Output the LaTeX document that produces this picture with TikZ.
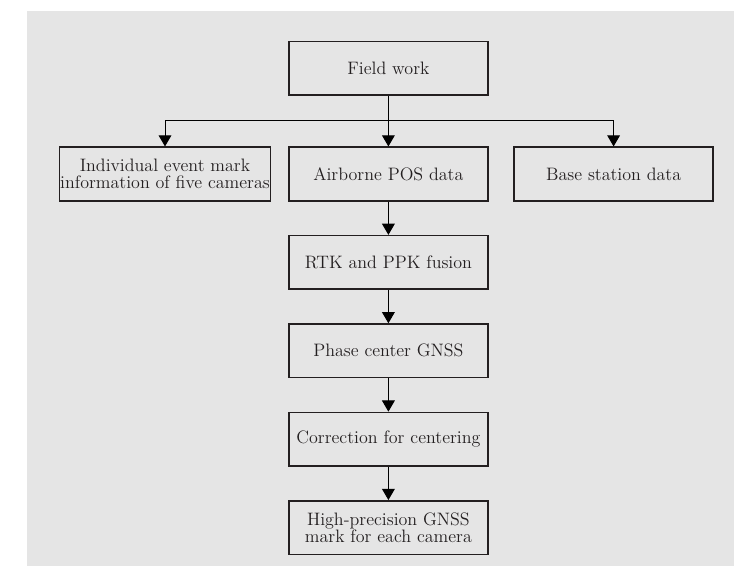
\documentclass[tikz,border=0pt]{standalone}
\usepackage{tikz}
\usetikzlibrary{arrows.meta, positioning}
\definecolor{bggray}{HTML}{E5E5E5}
\definecolor{inkdark}{HTML}{231F20}
\tikzstyle{block} = [rectangle, draw=inkdark, line width = 1.05pt, minimum width = 4.975cm, minimum height = 1.34cm, inner sep = 0.4pt, align = center, text = inkdark, font = \fontsize{12.8}{12.3}\selectfont]
\tikzstyle{line} = [draw=black, line width = 0.7pt]
\tikzstyle{arrow} = [line, -{Triangle[length=0.28cm, width=0.32cm]}]

\begin{document}
\begin{tikzpicture}
			\useasboundingbox (0, 0) rectangle (18.35, -14.15);
			\fill [bggray] (0.675, -0.275) rectangle (18.35, -14.15);

			\node [block] (field) at (9.71, -1.71) {Field work};
			\node [block, minimum width = 5.28cm] (event) at (4.125, -4.35) {Individual event mark\\information of five cameras};
			\node [block] (pos) at (9.71, -4.35) {Airborne POS data};
			\node [block] (base) at (15.34, -4.35) {Base station data};
			\node [block] (fusion) at (9.71, -6.56) {RTK and PPK fusion};
			\node [block] (phase) at (9.71, -8.77) {Phase center GNSS};
			\node [block] (centering) at (9.71, -10.98) {Correction for centering};
			\node [block] (mark) at (9.71, -13.19) {High-precision GNSS\\mark for each camera};
			\coordinate (split) at (9.71, -3.0);

			\path [line] (field) -- (split);
			\path [arrow] (split) -| (event);
			\path [arrow] (split) -- (pos);
			\path [arrow] (split) -| (base);
			\path [arrow] (pos) -- (fusion);
			\path [arrow] (fusion) -- (phase);
			\path [arrow] (phase) -- (centering);
			\path [arrow] (centering) -- (mark);
		\end{tikzpicture}
\end{document}
